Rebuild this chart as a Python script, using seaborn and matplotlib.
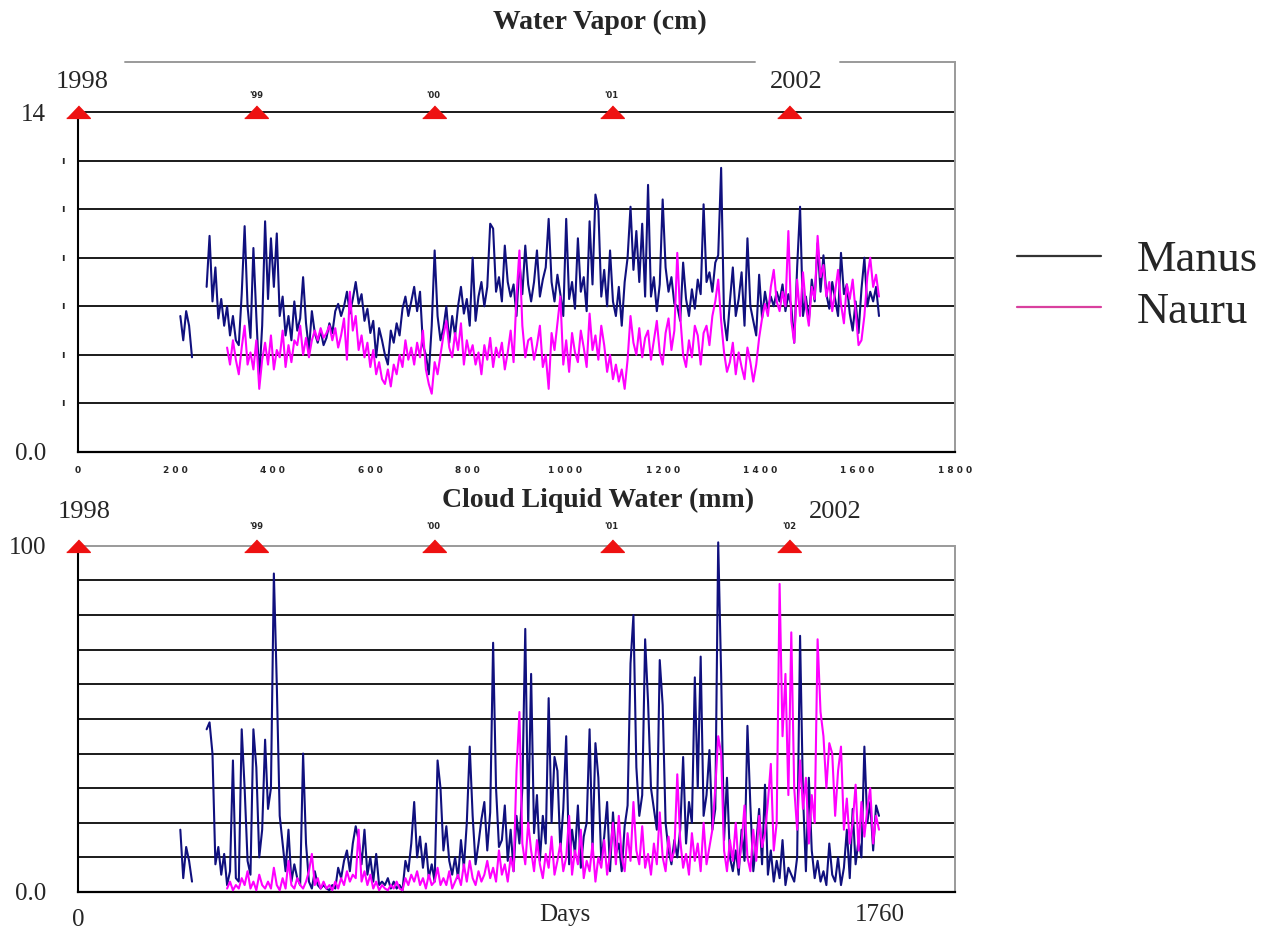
import numpy as np
import pandas as pd
import matplotlib
matplotlib.use("Agg")
import matplotlib.pyplot as plt
from matplotlib.lines import Line2D
import seaborn as sns

# ---------------- data ----------------
START_DAY = 210          # first Manus sample (day since 1 Jan 1998)
STEP_DAYS = 6
NAURU_START_INDEX = 16   # Nauru record starts 16 steps later

manus_wv = [
    5.6, 4.6, 5.8, 5.2, 3.9, np.nan, np.nan, np.nan, np.nan, 6.8,
    8.9, 6.2, 7.6, 5.5, 6.3, 5.2, 6.0, 4.8, 5.6, 4.6,
    4.4, 6.5, 9.3, 6.0, 4.7, 8.4, 5.6, 3.0, 5.2, 9.5,
    6.3, 8.8, 6.8, 9.0, 5.6, 6.4, 4.8, 5.6, 4.6, 6.2,
    5.0, 5.5, 7.2, 5.3, 4.2, 5.8, 4.9, 4.5, 5.0, 4.4,
    4.7, 5.3, 4.9, 5.8, 6.1, 5.6, 6.0, 6.6, 5.7, 6.3,
    7.0, 6.1, 6.5, 5.4, 5.9, 4.9, 5.4, 3.9, 5.1, 4.6,
    4.0, 3.6, 5.0, 4.5, 5.3, 4.8, 5.9, 6.4, 5.6, 6.2,
    6.8, 5.8, 6.6, 4.4, 4.0, 3.2, 5.2, 8.3, 5.6, 4.6,
    5.1, 6.0, 4.5, 5.6, 4.8, 6.0, 6.8, 5.7, 6.3, 5.2,
    8.0, 5.4, 6.4, 7.0, 6.0, 6.8, 9.4, 9.2, 6.6, 7.2,
    6.2, 8.5, 7.0, 6.4, 6.9, 5.6, 7.8, 6.5, 8.5, 6.9,
    6.2, 7.0, 8.3, 6.4, 7.1, 7.6, 9.6, 7.0, 6.2, 7.3,
    6.5, 5.6, 9.6, 6.3, 7.0, 5.9, 8.8, 6.6, 7.2, 5.8,
    9.5, 6.9, 10.6, 10.0, 6.4, 7.5, 6.0, 8.3, 6.2, 5.6,
    6.8, 5.2, 7.0, 8.0, 10.1, 7.5, 9.1, 7.0, 9.4, 6.4,
    11.0, 6.4, 7.2, 5.8, 6.9, 10.4, 7.6, 6.6, 7.2, 6.1,
    6.0, 5.4, 7.8, 6.3, 5.6, 6.7, 5.9, 7.1, 6.5, 10.2,
    7.0, 7.4, 6.6, 7.8, 8.1, 11.7, 5.5, 4.6, 6.2, 7.6,
    5.6, 6.3, 7.4, 5.2, 8.8, 6.0, 5.4, 4.8, 7.3, 5.5,
    6.6, 5.9, 6.4, 6.0, 6.6, 6.2, 6.9, 5.8, 6.5, 6.0,
    4.5, 7.6, 10.1, 5.6, 6.4, 5.4, 7.1, 6.2, 8.6, 6.6,
    8.1, 6.5, 5.9, 7.0, 6.3, 5.6, 8.2, 6.5, 6.9, 5.7,
    5.0, 6.2, 4.9, 6.7, 8.0, 6.0, 6.6, 6.2, 6.8, 5.6,
]

nauru_wv = [
    4.3, 3.6, 4.6, 3.8,
    3.2, 4.3, 5.2, 3.6, 4.1, 3.4, 4.6, 2.6, 3.8, 4.5,
    3.6, 4.8, 3.4, 4.2, 3.9, 5.0, 3.5, 4.4, 3.7, 4.6,
    4.4, 5.2, 4.0, 4.7, 3.9, 4.6, 5.0, 4.6, 5.1, 4.7,
    4.9, 5.2, 4.6, 5.1, 4.3, 4.8, 5.5, 3.8, 6.6, 5.0,
    5.6, 4.2, 4.8, 3.9, 4.5, 3.5, 4.2, 3.2, 3.7, 3.0,
    2.8, 3.4, 2.7, 3.6, 3.2, 4.0, 3.5, 4.6, 3.8, 4.3,
    3.6, 4.5, 3.9, 5.0, 3.4, 2.8, 2.4, 3.7, 3.2, 4.0,
    4.8, 5.4, 4.3, 3.9, 4.9, 4.2, 5.3, 3.6, 4.6, 4.0,
    4.4, 3.6, 4.1, 3.2, 4.4, 3.8, 4.7, 3.5, 4.3, 3.9,
    4.5, 3.4, 4.1, 5.0, 3.7, 6.4, 8.3, 5.2, 3.9, 4.6,
    4.7, 3.8, 4.4, 5.2, 3.5, 4.0, 2.6, 4.9, 4.2, 5.3,
    6.4, 3.6, 4.6, 3.3, 4.9, 4.1, 3.7, 5.0, 4.3, 3.5,
    5.7, 4.2, 4.8, 3.8, 5.2, 4.4, 3.3, 4.0, 3.0, 3.6,
    2.9, 3.4, 2.6, 3.8, 5.6, 4.5, 4.0, 5.1, 3.9, 4.7,
    5.0, 3.8, 4.6, 5.4, 4.1, 3.6, 4.9, 5.5, 4.2, 5.0,
    8.2, 5.6, 4.0, 3.5, 4.6, 3.9, 5.2, 4.8, 3.6, 4.9,
    5.2, 4.4, 5.6, 6.2, 7.1, 5.4, 4.1, 3.3, 3.7, 4.5,
    3.2, 4.1, 3.5, 3.0, 4.3, 3.7, 2.9, 3.6, 4.7, 5.5,
    6.1, 5.6, 6.8, 7.5, 6.2, 5.8, 6.6, 6.0, 9.1, 5.4,
    4.5, 7.1, 5.6, 7.4, 6.0, 5.2, 6.8, 6.3, 8.9, 7.2,
    7.7, 6.4, 7.0, 5.8, 6.6, 7.5, 6.1, 5.3, 6.9, 6.3,
    7.1, 5.8, 4.4, 4.6, 5.6, 7.2, 8.0, 6.8, 7.3, 6.4,
]

manus_clw = [
    18, 4, 13, 9, 3, np.nan, np.nan, np.nan, np.nan, 47,
    49, 40, 8, 13, 5, 11, 2, 6, 38, 4,
    3, 47, 30, 9, 5, 47, 36, 10, 18, 44,
    24, 30, 92, 60, 22, 14, 6, 18, 3, 8,
    4, 2, 40, 14, 3, 1, 6, 2, 1, 2,
    1, 0.5, 2, 1, 7, 4, 9, 12, 6, 14,
    19, 15, 8, 18, 5, 10, 3, 11, 2, 3,
    2, 4, 1, 3, 1, 2, 0.5, 9, 6, 14,
    26, 10, 16, 7, 14, 4, 8, 3, 38, 30,
    12, 19, 9, 5, 10, 4, 15, 7, 20, 42,
    22, 8, 14, 21, 26, 12, 23, 72, 30, 13,
    15, 25, 9, 18, 6, 22, 14, 30, 76, 19,
    63, 17, 28, 9, 22, 14, 56, 20, 39, 35,
    12, 24, 45, 8, 18, 11, 25, 7, 16, 20,
    47, 12, 43, 33, 9, 16, 26, 6, 23, 11,
    14, 6, 19, 25, 66, 80, 36, 22, 28, 73,
    55, 30, 24, 18, 67, 54, 20, 12, 8, 15,
    10, 18, 39, 14, 26, 20, 62, 30, 68, 22,
    28, 41, 18, 24, 101, 63, 15, 33, 10, 6,
    12, 5, 18, 9, 48, 25, 6, 14, 24, 8,
    31, 5, 12, 3, 9, 4, 15, 2, 7, 5,
    3, 10, 74, 28, 6, 33, 12, 4, 9, 3,
    6, 2, 14, 5, 3, 10, 2, 7, 18, 4,
    24, 8, 15, 10, 42, 20, 26, 12, 25, 22,
]

nauru_clw = [
    1, 3, 0.5, 2,
    1, 4, 2, 6, 1, 3, 0.5, 5, 2, 1,
    3, 1, 7, 2, 0.5, 4, 1, 9, 2, 1,
    4, 2, 1, 3, 6, 11, 2, 4, 1, 3,
    1, 2, 0.5, 3, 1, 4, 2, 6, 3, 5,
    4, 18, 3, 6, 2, 5, 1, 3, 0.5, 2,
    1, 0.5, 2, 1, 3, 1, 0.5, 4, 2, 5,
    3, 6, 2, 4, 1, 5, 2, 3, 7, 2,
    4, 2, 6, 1, 3, 5, 2, 8, 3, 9,
    4, 2, 6, 3, 5, 9, 4, 7, 3, 12,
    5, 8, 3, 10, 6, 35, 52, 14, 8, 20,
    12, 6, 15, 8, 4, 11, 7, 16, 5, 9,
    14, 6, 10, 22, 5, 12, 8, 18, 4, 9,
    6, 14, 3, 10, 7, 15, 5, 11, 20, 8,
    22, 10, 6, 17, 9, 26, 12, 8, 19, 7,
    11, 5, 14, 8, 23, 10, 6, 16, 9, 12,
    34, 15, 7, 11, 5, 17, 9, 14, 6, 20,
    8, 13, 18, 30, 45, 40, 12, 6, 15, 9,
    20, 7, 14, 25, 10, 6, 18, 9, 22, 13,
    17, 26, 37, 12, 20, 89, 45, 63, 28, 75,
    30, 18, 38, 24, 33, 14, 28, 20, 73, 52,
    45, 30, 43, 40, 22, 35, 42, 18, 27, 14,
    20, 31, 12, 26, 16, 24, 30, 14, 22, 18,
]

stations = ["Manus", "Nauru"]
year_days = [0, 365, 730, 1095, 1460]
year_small_top = ["", "'99", "'00", "'01", ""]
year_small_bottom = ["", "'99", "'00", "'01", "'02"]
x_tick_days = [0, 200, 400, 600, 800, 1000, 1200, 1400, 1600, 1800]
x_tick_labels_top = ["0", "2 0 0", "4 0 0", "6 0 0", "8 0 0", "1 0 0 0",
                     "1 2 0 0", "1 4 0 0", "1 6 0 0", "1 8 0 0"]

# ---------------- helpers ----------------
def long_frame(values, station, start_index):
    vals = np.array(values, dtype=float)
    day = START_DAY + STEP_DAYS * (start_index + np.arange(len(vals)))
    seg = np.cumsum(np.isnan(vals))
    df = pd.DataFrame({"day": day, "value": vals, "station": station,
                       "seg": [f"{station}{s}" for s in seg]})
    return df.dropna()

wv = pd.concat([long_frame(manus_wv, "Manus", 0),
                long_frame(nauru_wv, "Nauru", NAURU_START_INDEX)])
clw = pd.concat([long_frame(manus_clw, "Manus", 0),
                 long_frame(nauru_clw, "Nauru", NAURU_START_INDEX)])

sns.set_style("white")
plt.rcParams["font.family"] = ["Liberation Serif", "DejaVu Serif"]

W, H = 1279, 940
fig = plt.figure(figsize=(W / 100, H / 100), dpi=100)

def frame(x0, y0, x1, y1):
    return [x0 / W, 1 - y1 / H, (x1 - x0) / W, (y1 - y0) / H]

ax1 = fig.add_axes(frame(78, 62, 955, 452))
ax2 = fig.add_axes(frame(78, 538.9, 955, 892))

palette = {"Manus": "#10107e", "Nauru": "#ff00ff"}
GRID = "#1a1a1a"
FRAME_GRAY = "#9a9a9a"
SERIF = "Liberation Serif"
tri = [(-1, -0.5), (1, -0.5), (0, 0.55)]
DATA_LW = 1.5

# ---------- top panel: water vapour ----------
ax1.set_xlim(0, 1800)
ax1.set_ylim(0, 16.06)
for v in range(2, 15, 2):
    ax1.axhline(v, color=GRID, lw=1.4, zorder=1)
sns.lineplot(data=wv, x="day", y="value", hue="station", units="seg",
             estimator=None, sort=False, palette=palette, hue_order=stations,
             legend=False, lw=DATA_LW, ax=ax1, zorder=3)
ax1.plot(year_days, [14] * len(year_days), linestyle="none", marker=tri,
         markersize=17, color="#ee1111", clip_on=False, zorder=5)

# ---------- bottom panel: cloud liquid water ----------
ax2.set_xlim(0, 1800)
ax2.set_ylim(0, 102)
for v in range(10, 100, 10):
    ax2.axhline(v, color=GRID, lw=1.4, zorder=1)
ax2.axhline(100, color=FRAME_GRAY, lw=1.4, zorder=1)
sns.lineplot(data=clw, x="day", y="value", hue="station", units="seg",
             estimator=None, sort=False, palette=palette, hue_order=stations,
             legend=False, lw=DATA_LW, ax=ax2, zorder=3)
ax2.plot(year_days, [100] * len(year_days), linestyle="none", marker=tri,
         markersize=17, color="#ee1111", clip_on=False, zorder=5)

# ---------- spines / ticks ----------
for ax, top in ((ax1, 14), (ax2, 100)):
    ax.set_xlabel("")
    ax.set_ylabel("")
    ax.spines["top"].set_visible(False)
    ax.spines["left"].set_bounds(0, top)
    ax.spines["left"].set_color("black")
    ax.spines["left"].set_linewidth(1.5)
    ax.spines["bottom"].set_color("black")
    ax.spines["bottom"].set_linewidth(1.6)
    ax.spines["right"].set_color(FRAME_GRAY)
    ax.spines["right"].set_linewidth(1.4)
    ax.tick_params(axis="both", direction="out", color="black")
    ax.tick_params(axis="x", length=3, width=1)
    ax.tick_params(axis="y", length=5, width=1.2, pad=18, labelsize=18)

ax2.spines["right"].set_bounds(0, 100)
ax1.axhline(16.06, xmin=(125 - 78) / 877, xmax=(755 - 78) / 877,
            color=FRAME_GRAY, lw=1.4, clip_on=False)
ax1.axhline(16.06, xmin=(840 - 78) / 877, xmax=1.0,
            color=FRAME_GRAY, lw=1.4, clip_on=False)

ax1.set_yticks(list(range(0, 15, 2)))
ax1.set_yticklabels(["0.0"] + [""] * 6 + ["14"], fontfamily=SERIF, fontsize=18)
ytr = ax1.get_yaxis_transform()
for v in range(2, 13, 2):
    ax1.text(-15 / 877, v, "ı", transform=ytr, ha="center", va="center",
             fontsize=7, fontfamily="DejaVu Sans", fontweight="bold")
ax1.set_xticks(x_tick_days)
ax1.set_xticklabels(x_tick_labels_top, fontfamily="DejaVu Sans",
                    fontweight="bold", fontsize=6.5)
ax1.tick_params(axis="x", pad=7)

ax2.set_yticks(list(range(0, 101, 10)))
ax2.set_yticklabels(["0.0"] + [""] * 9 + ["100"], fontfamily=SERIF, fontsize=18)
ax2.set_xticks(x_tick_days)
ax2.set_xticklabels(["0"] + [""] * 9, fontfamily=SERIF, fontsize=18)
ax2.tick_params(axis="x", pad=9)

# ---------- year annotations ----------
ax1.text(8, 15.25, "1998", ha="center", va="center", fontsize=19,
         fontfamily=SERIF, clip_on=False)
ax1.text(1475, 15.25, "2002", ha="center", va="center", fontsize=19,
         fontfamily=SERIF, clip_on=False)
for d, lab in zip(year_days, year_small_top):
    if lab:
        ax1.text(d, 14.68, lab, ha="center", va="center", fontsize=6,
                 fontfamily="DejaVu Sans", fontweight="bold")
ax2.text(12, 109.8, "1998", ha="center", va="center", fontsize=19,
         fontfamily=SERIF, clip_on=False)
ax2.text(1555, 109.8, "2002", ha="center", va="center", fontsize=19,
         fontfamily=SERIF, clip_on=False)
for d, lab in zip(year_days, year_small_bottom):
    if lab:
        ax2.text(d, 105.5, lab, ha="center", va="center", fontsize=6,
                 fontfamily="DejaVu Sans", fontweight="bold", clip_on=False)

xtr = ax2.get_xaxis_transform()
ax2.text(999, -0.065, "Days", transform=xtr, ha="center", va="center",
         fontsize=18, fontfamily=SERIF)
ax2.text(1645, -0.065, "1760", transform=xtr, ha="center", va="center",
         fontsize=18, fontfamily=SERIF)

# ---------- titles ----------
fig.text(600 / W, 1 - 22 / H, "Water Vapor (cm)", ha="center", va="center",
         fontsize=20, fontweight="bold", fontfamily=SERIF)
fig.text(598 / W, 1 - 500 / H, "Cloud Liquid Water (mm)", ha="center",
         va="center", fontsize=20, fontweight="bold", fontfamily=SERIF)

# ---------- legend ----------
handles = [Line2D([], [], color="#333333", lw=1.6),
           Line2D([], [], color="#d9409e", lw=1.6)]
fig.legend(handles, stations, loc="center left",
           bbox_to_anchor=(1017 / W, 1 - 286 / H), frameon=False,
           prop={"family": SERIF, "size": 32}, handlelength=1.9,
           handletextpad=0.8, labelspacing=0.25, borderpad=0,
           borderaxespad=0)

fig.savefig("out.png", dpi=100, facecolor="white")
